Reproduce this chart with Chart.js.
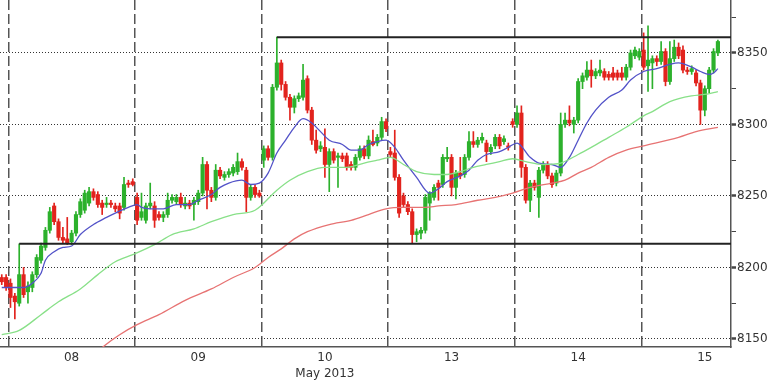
<!DOCTYPE html>
<html lang="en">
<head>
<meta charset="UTF-8">
<title>Hourly candles, May 2013</title>
<script src="https://cdn.jsdelivr.net/npm/chart.js"></script>
<style>
  body { margin: 0; background: #fff; }
  .wrap { position: relative; width: 768px; height: 384px; }
</style>
</head>
<body>
<div class="wrap"><canvas id="chart"></canvas></div>
<script>
// sessions on the axis
const dayLabels = ['08', '09', ['10', 'May 2013'], '13', '14', '15'];
const dayFirstBar = [2, 31, 60, 89, 118, 147];
const barsPerDay = 29;

// candles, one row per session
const opens = [
  8193, 8193,
  8189, 8180, 8175, 8195, 8183, 8186, 8195, 8205, 8214, 8226, 8243, 8232, 8221, 8220, 8218, 8224, 8237, 8240, 8245, 8253, 8251, 8245, 8244, 8245, 8243, 8243, 8242, 8259, 8260,
  8249, 8235, 8233, 8243, 8243, 8237, 8235, 8237, 8247, 8246, 8249, 8243, 8245, 8244, 8246, 8252, 8272, 8254, 8249, 8268, 8263, 8265, 8266, 8267, 8274, 8268, 8249, 8256, 8252,
  8275, 8283, 8277, 8326, 8343, 8328, 8319, 8312, 8318, 8319, 8332, 8310, 8289, 8283, 8284, 8272, 8281, 8277, 8278, 8278, 8272, 8270, 8277, 8283, 8278, 8288, 8287, 8291, 8302,
  8281, 8280, 8263, 8250, 8244, 8239, 8223, 8224, 8226, 8245, 8249, 8259, 8258, 8276, 8277, 8256, 8266, 8265, 8277, 8288, 8286, 8289, 8287, 8281, 8285, 8291, 8288, 8285, 8302,
  8300, 8308, 8270, 8247, 8259, 8249, 8268, 8272, 8264, 8259, 8266, 8300, 8303, 8300, 8303, 8330, 8333, 8338, 8334, 8336, 8337, 8335, 8336, 8336, 8336, 8333, 8340, 8348, 8347,
  8352, 8341, 8343, 8346, 8344, 8351, 8330, 8346, 8354, 8352, 8338, 8337, 8336, 8329, 8310, 8325, 8338, 8350
];
const highs = [
  8195, 8195,
  8192, 8182, 8216.5, 8200, 8190, 8197, 8209, 8217, 8228, 8242, 8245, 8234, 8228, 8235, 8226, 8239, 8248, 8254, 8256, 8255, 8253, 8247, 8249, 8247, 8245, 8245, 8263, 8261, 8262,
  8252, 8252, 8245, 8259, 8246, 8239, 8239, 8252, 8251, 8251, 8252, 8249, 8247, 8249, 8254, 8277, 8274, 8256, 8272, 8270, 8267, 8269, 8272, 8280, 8276, 8270, 8258, 8258, 8254,
  8285, 8285, 8328, 8361, 8345, 8330, 8321, 8320, 8322, 8342, 8334, 8312, 8296, 8288, 8297, 8283, 8283, 8280, 8280, 8280, 8274, 8279, 8285, 8285, 8292, 8296, 8293, 8305, 8304,
  8284, 8296, 8265, 8252, 8246, 8241, 8227, 8228, 8251, 8253, 8258, 8261, 8279, 8284, 8279, 8268, 8277, 8279, 8295, 8295, 8291, 8294, 8289, 8286, 8293, 8293, 8292, 8287, 8304,
  8313, 8313, 8272, 8261, 8261, 8270, 8274, 8274, 8266, 8268, 8308, 8308, 8313, 8305, 8332, 8336, 8344, 8345, 8339, 8345, 8339, 8337, 8340, 8338, 8340, 8342, 8352, 8354, 8353,
  8364, 8369, 8348, 8348, 8358, 8353, 8358, 8359, 8357, 8355, 8340, 8341, 8338, 8331, 8327, 8340, 8353, 8359
];
const lows = [
  8188, 8184,
  8172, 8164, 8173, 8179, 8175, 8183, 8193, 8203, 8212, 8224, 8230, 8219, 8217, 8216, 8216, 8222, 8235, 8238, 8243, 8247, 8242, 8237, 8242, 8242, 8239, 8234, 8240, 8256, 8257,
  8230, 8233, 8231, 8241, 8228, 8233, 8232, 8235, 8245, 8244, 8242, 8241, 8241, 8233, 8244, 8250, 8241, 8246, 8247, 8262, 8261, 8263, 8264, 8265, 8268, 8239, 8247, 8249, 8249,
  8270, 8275, 8275, 8324, 8324, 8317, 8303, 8308, 8316, 8317, 8308, 8286, 8280, 8281, 8263, 8253, 8273, 8256, 8274, 8268, 8268, 8268, 8275, 8276, 8276, 8285, 8285, 8289, 8295,
  8277, 8261, 8235, 8242, 8237, 8217, 8218, 8220, 8224, 8233, 8247, 8247, 8256, 8274, 8250, 8248, 8262, 8263, 8275, 8284, 8284, 8287, 8274, 8279, 8283, 8283, 8286, 8282, 8298,
  8298, 8263, 8245, 8239, 8254, 8235, 8266, 8262, 8256, 8257, 8264, 8298, 8299, 8294, 8301, 8325, 8331, 8326, 8332, 8334, 8331, 8331, 8331, 8331, 8331, 8331, 8338, 8346, 8345,
  8338, 8323, 8325, 8341, 8342, 8327, 8328, 8344, 8346, 8336, 8335, 8335, 8327, 8300, 8306, 8322, 8336, 8348
];
const closes = [
  8190, 8186,
  8179, 8176, 8195, 8181, 8187, 8195, 8207, 8215, 8226, 8239, 8232, 8221, 8219, 8217, 8224, 8237, 8246, 8252, 8253, 8249, 8244, 8242, 8245, 8244, 8241, 8238, 8258, 8258, 8258,
  8233, 8239, 8243, 8245, 8233, 8235, 8237, 8247, 8249, 8249, 8244, 8245, 8243, 8247, 8252, 8272, 8254, 8249, 8268, 8264, 8265, 8267, 8270, 8274, 8270, 8249, 8256, 8251, 8250,
  8283, 8277, 8326, 8343, 8328, 8319, 8312, 8318, 8320, 8331, 8310, 8289, 8282, 8285, 8272, 8281, 8275, 8278, 8276, 8270, 8270, 8277, 8283, 8278, 8289, 8286, 8291, 8302, 8297,
  8279, 8263, 8238, 8244, 8239, 8223, 8225, 8226, 8249, 8252, 8256, 8256, 8277, 8277, 8256, 8266, 8264, 8277, 8288, 8286, 8289, 8291, 8281, 8284, 8291, 8285, 8290, 8284, 8300,
  8308, 8270, 8247, 8259, 8256, 8268, 8272, 8264, 8258, 8266, 8300, 8303, 8301, 8303, 8330, 8334, 8338, 8334, 8337, 8338, 8333, 8333, 8333, 8333, 8333, 8340, 8350, 8352, 8351,
  8340, 8345, 8346, 8344, 8351, 8330, 8346, 8354, 8348, 8338, 8337, 8339, 8329, 8310, 8325, 8338, 8351, 8358
];

// moving averages: [bar, value]
const maFast = [[0,8186],[3,8186],[5,8186],[7,8189],[9,8196],[10,8205],[12,8211],[14,8214],[16,8215],[18,8223],[21,8230],[24,8235],[26,8238],[29,8242],[31,8244],[32,8242],[34,8241],[37,8241],[40,8244],[43,8244],[45,8247],[48,8251],[50,8256],[52,8259],[55,8261],[57,8258],[59,8259],[61,8266],[63,8280],[65,8289],[67,8298],[69,8304],[71,8301],[73,8295],[75,8289],[78,8286],[80,8282],[82,8282],[84,8286],[86,8288],[88,8289],[90,8284],[92,8275],[95,8263],[98,8252],[100,8255],[102,8260],[105,8264],[107,8268],[109,8275],[111,8279],[114,8281],[116,8284],[118,8287],[121,8277],[123,8273],[126,8272],[128,8270],[130,8277],[132,8289],[134,8301],[136,8310],[139,8319],[142,8324],[144,8331],[147,8337],[150,8339],[153,8342],[155,8343],[158,8340],[160,8337],[162,8335],[163,8336],[164,8339]];
const maMid = [[0,8153],[4,8156],[9,8167],[13,8176],[18,8185],[22,8195],[26,8204],[30,8209],[35,8216],[39,8223],[44,8227],[48,8232],[53,8237],[58,8240],[63,8254],[66,8261],[70,8267],[74,8270],[79,8270],[83,8273],[86,8275],[89,8277],[92,8272],[95,8267],[99,8265],[102,8265],[105,8267],[108,8270],[111,8272],[114,8274],[117,8276],[120,8274],[124,8272],[128,8273],[132,8279],[135,8284],[139,8291],[143,8298],[147,8306],[149,8309],[153,8316],[158,8320],[161,8321],[164,8323]];
const maSlow = [[21,8138],[23,8144],[27,8153],[31,8160],[36,8167],[42,8177],[48,8185],[53,8193],[58,8200],[61,8207],[64,8213],[67,8220],[70,8225],[75,8230],[80,8233],[84,8237],[88,8241],[92,8242],[97,8242],[100,8243],[104,8244],[109,8247],[113,8249],[117,8252],[121,8256],[126,8259],[129,8261],[132,8266],[135,8270],[139,8277],[143,8282],[147,8285],[155,8291],[159,8295],[164,8298]];

// horizontal levels and the bar they start from
const levels = [8361, 8216.5];
const levelFromBar = [63, 4];

const yTicks = [8150, 8175, 8200, 8225, 8250, 8275, 8300, 8325, 8350, 8375];

const X_MIN = -0.4, X_MAX = 167;
const UP = '#2cb12c', DOWN = '#e2231d';
const FONT = { family: 'DejaVu Sans', size: 12, lineHeight: 1.3 };

const bars = opens.map((_, i) => i);
const colors = bars.map(i => closes[i] >= opens[i] ? UP : DOWN);
const wickData = bars.map(i => ({ x: i, y: [lows[i], highs[i]] }));
const bodyData = bars.map(i => ({ x: i, y: [Math.min(opens[i], closes[i]), Math.max(opens[i], closes[i])] }));

function maLine(points, color) {
    return {
        type: 'line',
        data: points.map(p => ({ x: p[0], y: p[1] })),
        borderColor: color,
        borderWidth: 1.3,
        pointRadius: 0,
        cubicInterpolationMode: 'monotone',
        order: 1
    };
}

const levelSets = levels.map((v, k) => ({
    type: 'line',
    data: [{ x: levelFromBar[k], y: v }, { x: X_MAX, y: v }],
    borderColor: '#222',
    borderWidth: 2,
    pointRadius: 0,
    order: 0
}));

const isMajor = c => c.tick && c.tick.value % 50 === 0;

new Chart(document.getElementById('chart'), {
    type: 'bar',
    data: {
        datasets: [
            { data: wickData, backgroundColor: colors, barThickness: 1, grouped: false, order: 4 },
            { data: bodyData, backgroundColor: colors, barThickness: 3.5, grouped: false, minBarLength: 1, order: 3 },
            maLine(maSlow, '#e77373'),
            maLine(maMid, '#88e088'),
            maLine(maFast, '#5252c8'),
            ...levelSets
        ]
    },
    options: {
        responsive: true,
        maintainAspectRatio: false,
        animation: false,
        layout: { padding: 0 },
        plugins: { legend: { display: false }, tooltip: { enabled: false } },
        scales: {
            x: {
                type: 'linear',
                min: X_MIN,
                max: X_MAX,
                offset: false,
                afterBuildTicks: s => { s.ticks = dayFirstBar.map(b => ({ value: b + (barsPerDay - 1) / 2 })); },
                afterFit: s => { s.height = 37; s.paddingLeft = 0; s.paddingRight = 0; },
                ticks: {
                    callback: (v, i) => dayLabels[i],
                    color: '#333',
                    font: FONT,
                    padding: 3,
                    maxRotation: 0,
                    autoSkip: false
                },
                grid: { offset: true, color: '#555', lineWidth: 1.5, drawTicks: false },
                border: { display: true, color: '#555', width: 1.5, dash: [10, 4] }
            },
            y: {
                position: 'right',
                min: 8144.4,
                max: 8387,
                afterBuildTicks: s => { s.ticks = yTicks.map(v => ({ value: v })); },
                afterFit: s => { s.width = 37; s.paddingTop = 0; s.paddingBottom = 0; },
                ticks: {
                    callback: v => (v % 50 === 0 ? String(v) : ''),
                    color: '#333',
                    font: FONT,
                    padding: 1,
                    autoSkip: false
                },
                grid: {
                    color: c => (isMajor(c) ? '#333' : 'rgba(0,0,0,0)'),
                    lineWidth: 1,
                    tickLength: 5,
                    tickColor: '#444',
                    tickWidth: c => (isMajor(c) ? 2.5 : 1)
                },
                border: { color: '#555', width: 1.5, dash: [1, 2] }
            }
        }
    }
});
</script>
</body>
</html>
